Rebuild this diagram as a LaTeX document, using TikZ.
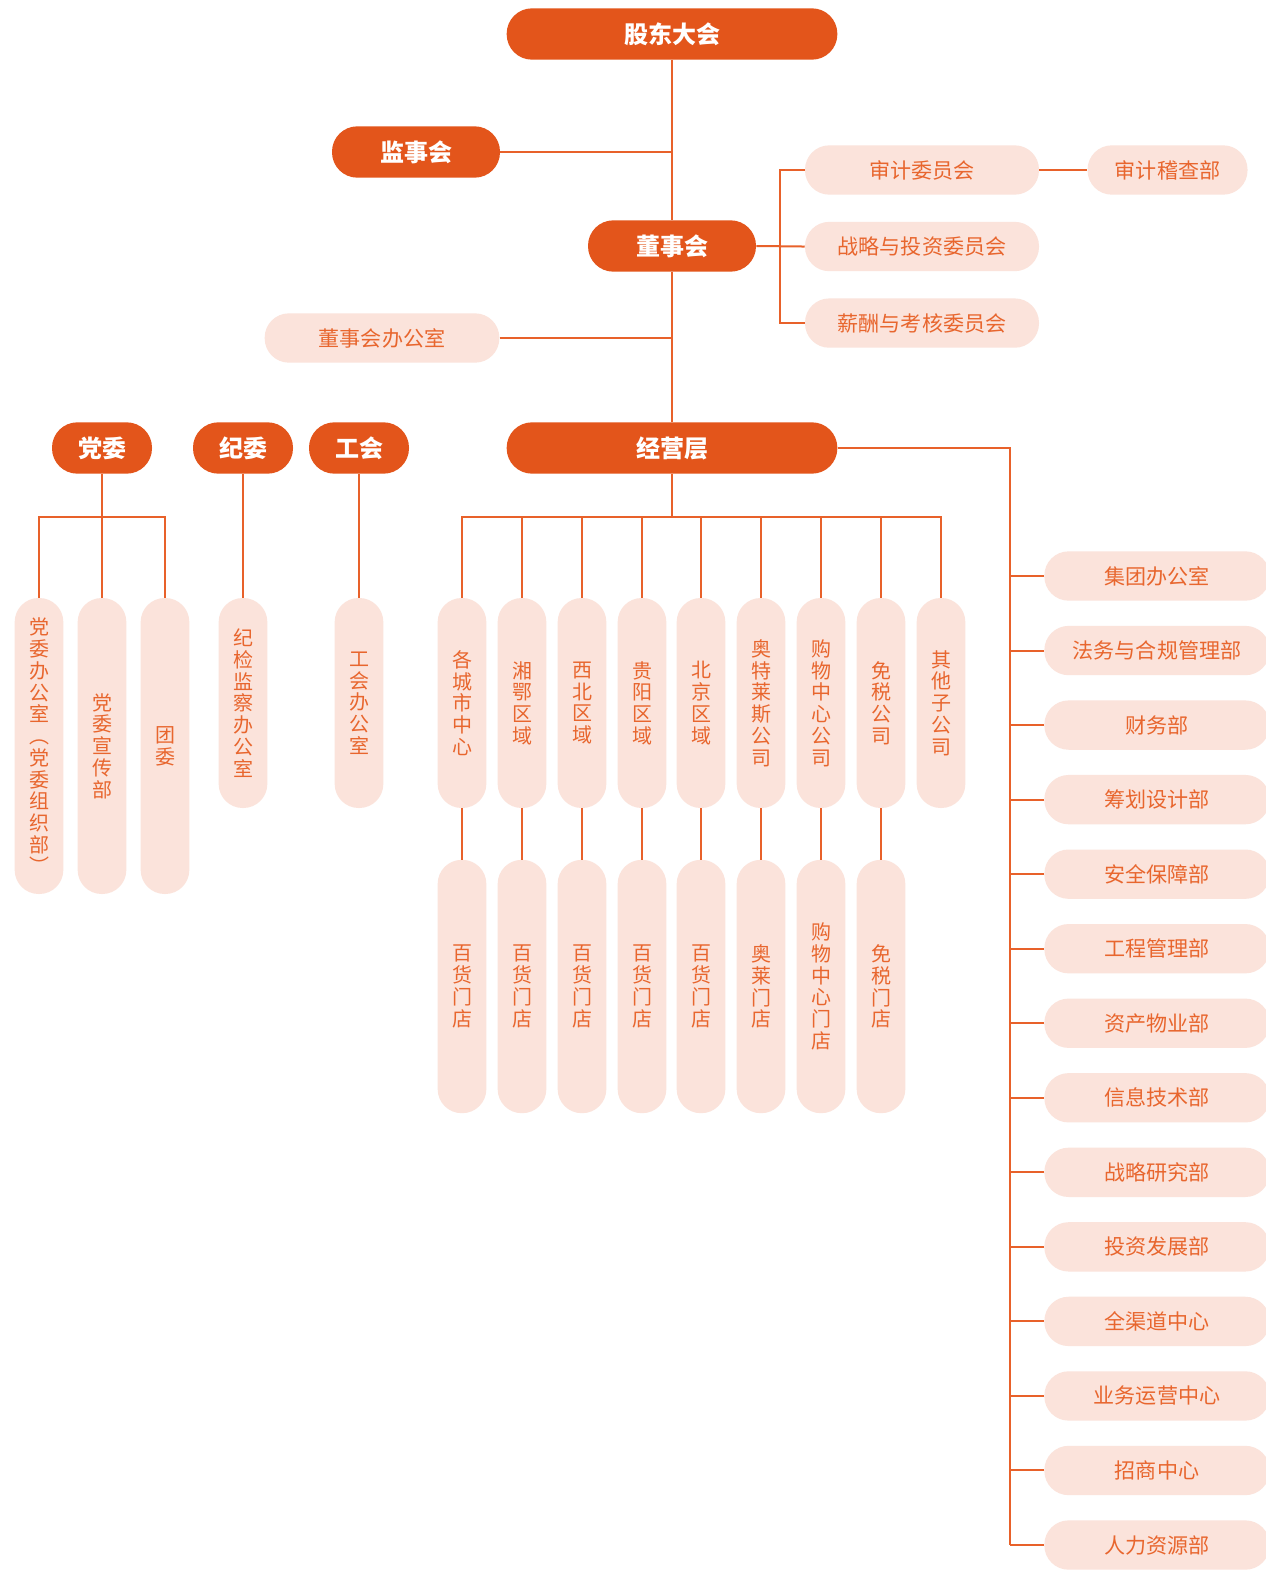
\documentclass[tikz,border=0pt]{standalone}
\usepackage{fontspec}
\setmainfont{Noto Sans CJK SC}
\usetikzlibrary{positioning,calc}
\definecolor{cDark}{HTML}{E3551B}
\definecolor{cPale}{HTML}{FBE3DB}
\definecolor{cText}{HTML}{E8662E}
\definecolor{cLine}{HTML}{E8612A}

\begin{document}
\begin{tikzpicture}[
    %–––– GLOBAL STYLE TWEAKS ––––
    x=0.75pt, y=-0.75pt,                             % pixel grid, y downwards
    darkbox/.style = {fill=cDark, text=white, inner sep=0pt,
                      font=\fontsize{18}{20}\selectfont\bfseries,
                      minimum height=38.5pt, rounded corners=19pt},
    palebox/.style = {fill=cPale, text=cText, inner sep=0pt,
                      font=\fontsize{15.8}{18}\selectfont,
                      minimum height=37pt, rounded corners=18.2pt},
    vbox/.style    = {fill=cPale, text=cText, inner sep=0pt, align=center,
                      font=\fontsize{15}{16.3}\selectfont,
                      minimum width=36.5pt, rounded corners=18pt},
    link/.style    = {draw=cLine, line width=1.5pt},
]
\clip (0,0) rectangle (1266,1570);
\fill[white] (0,0) rectangle (1266,1570);

%–––– TOP LEVEL ––––
\node (gd)   [darkbox, minimum width=248pt] at (672,34)  {股东大会};
\node (jsh)  [darkbox, minimum width=126pt] at (416,152) {监事会};
\node (dsh)  [darkbox, minimum width=126pt] at (672,246) {董事会};

\node (sjwy) [palebox, minimum width=175.5pt] at (922,170) {审计委员会};
\node (zlwy) [palebox, minimum width=175.5pt, below=20pt of sjwy] {战略与投资委员会};
\node (xcwy) [palebox, minimum width=175.5pt, below=20pt of zlwy] {薪酬与考核委员会};
\node (sjjc) [palebox, minimum width=120pt, right=36pt of sjwy]   {审计稽查部};

\node (dshb) [palebox, minimum width=176pt] at (382,338) {董事会办公室};

%–––– SECOND ROW ––––
\node (jyc)  [darkbox, minimum width=248pt] at (672,448) {经营层};
\node (dw)   [darkbox, minimum width=75pt]  at (102,448) {党委};
\node (jw)   [darkbox, minimum width=75pt]  at (243,448) {纪委};
\node (gh)   [darkbox, minimum width=75pt]  at (359,448) {工会};

%–––– PARTY / UNION OFFICES ––––
\node (pw1) [vbox, minimum height=222pt] at (39,746)  {党\\委\\办\\公\\室\\︵\\党\\委\\组\\织\\部\\︶};
\node (pw2) [vbox, minimum height=222pt] at (102,746) {党\\委\\宣\\传\\部};
\node (pw3) [vbox, minimum height=222pt] at (165,746) {团\\委};
\node (jj)  [vbox, minimum height=157.5pt] at (243,703) {纪\\检\\监\\察\\办\\公\\室};
\node (ghb) [vbox, minimum height=157.5pt] at (359,703) {工\\会\\办\\公\\室};

%–––– BUSINESS UNITS ––––
\foreach \n/\xc/\t in {1/462/{各\\城\\市\\中\\心}, 2/522/{湘\\鄂\\区\\域},
    3/582/{西\\北\\区\\域}, 4/642/{贵\\阳\\区\\域}, 5/701/{北\\京\\区\\域},
    6/761/{奥\\特\\莱\\斯\\公\\司}, 7/821/{购\\物\\中\\心\\公\\司},
    8/881/{免\\税\\公\\司}, 9/941/{其\\他\\子\\公\\司}}
  \node (u\n) [vbox, minimum height=157.5pt] at (\xc,703) {\t};

\foreach \n/\xc/\t in {1/462/{百\\货\\门\\店}, 2/522/{百\\货\\门\\店},
    3/582/{百\\货\\门\\店}, 4/642/{百\\货\\门\\店}, 5/701/{百\\货\\门\\店},
    6/761/{奥\\莱\\门\\店}, 7/821/{购\\物\\中\\心\\门\\店}, 8/881/{免\\税\\门\\店}}
  \node (s\n) [vbox, minimum height=190pt] at (\xc,986.5) {\t};

%–––– FUNCTIONAL DEPARTMENTS ––––
\foreach \n/\t in {1/集团办公室, 2/法务与合规管理部, 3/财务部, 4/筹划设计部,
    5/安全保障部, 6/工程管理部, 7/资产物业部, 8/信息技术部, 9/战略研究部,
    10/投资发展部, 11/全渠道中心, 12/业务运营中心, 13/招商中心, 14/人力资源部}
  \node (r\n) [palebox, minimum width=169pt] at ({1157},{576+74.54*(\n-1)}) {\t};

%–––– CONNECTORS ––––
\draw[link] (gd) -- (dsh);
\draw[link] (dsh) -- (jyc);
\draw[link] (jsh.east) -- (jsh.east -| gd.south);
\draw[link] (dshb.east) -- (dshb.east -| dsh.south);
\draw[link] (dsh.east) -- (zlwy.west);
\draw[link] (sjwy.west) -- ++(-25,0) |- (xcwy.west);
\draw[link] (sjwy) -- (sjjc);

\coordinate (rbus) at (1010,1545);
\draw[link] (jyc.east) -| (rbus);
\foreach \n in {1,...,14}
  \draw[link] (r\n.west) -- (r\n.west -| rbus);

\draw[link] (jyc.south) -- ++(0,44);
\draw[link] (u1.north) -- ++(0,-81) -| (u9.north);
\foreach \n in {2,...,8}
  \draw[link] (u\n.north) -- ++(0,-81);
\foreach \n in {1,...,8}
  \draw[link] (u\n) -- (s\n);

\draw[link] (dw) -- (pw2);
\draw[link] (pw1.north) -- ++(0,-81) -| (pw3.north);
\draw[link] (jw) -- (jj);
\draw[link] (gh) -- (ghb);
\end{tikzpicture}
\end{document}
